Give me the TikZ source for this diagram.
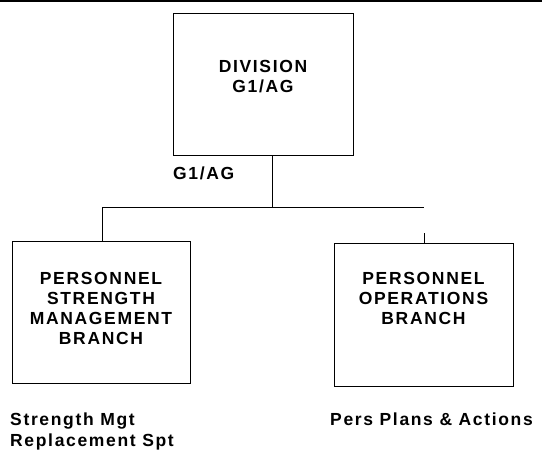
\documentclass[tikz,border=0pt]{standalone}
\usepackage{fontspec}
\setmainfont{Liberation Sans}[LetterSpace=9.5]
\begin{document}
\begin{tikzpicture}[x=1pt,y=-1pt,
  unit/.style={draw=black,line width=0.8pt,inner sep=0pt},
  title/.style={font=\bfseries\fontsize{17.5}{20}\selectfont,align=center,inner sep=0pt,anchor=north},
  duty/.style={font=\bfseries\fontsize{17.5}{21}\selectfont,align=left,inner sep=0pt,anchor=north west},
  link/.style={draw=black,line width=0.8pt}]
\useasboundingbox (0,0) rectangle (542,454);
% page rule along the top edge
\fill[black] (0,0) rectangle (542,2);

% division headquarters
\node[unit,minimum width=180,minimum height=142] (div) at (263,84) {};
\node[title] (divtxt) at (263,60) {DIVISION\\G1/AG};
\node[duty] (divlbl) at (173,167) {G1/AG};

% branches
\node[unit,minimum width=178,minimum height=142] (psm) at (101,312) {};
\node[title] (psmtxt) at (101,272) {PERSONNEL\\STRENGTH\\MANAGEMENT\\BRANCH};
\node[unit,minimum width=179,minimum height=143] (pob) at (423.5,314.5) {};
\node[title] (pobtxt) at (423.5,272) {PERSONNEL\\OPERATIONS\\BRANCH};

% branch duties
\node[duty] (psmduty) at (10,413) {Strength Mgt\\Replacement Spt};
\node[duty] (pobduty) at (330,413) {Pers Plans \& Actions};

% reporting lines
\coordinate (busL) at (102,207.5);
\coordinate (busR) at (424,207.5);
\draw[link] ([xshift=9pt]div.south) -- ([xshift=9pt]div.south |- busL);
\draw[link] (busL) -- (busR);
\draw[link] (busL) -- (busL |- psm.north);
\draw[link] (pob.north -| busR) -- ++(0,-10);
\end{tikzpicture}
\end{document}
